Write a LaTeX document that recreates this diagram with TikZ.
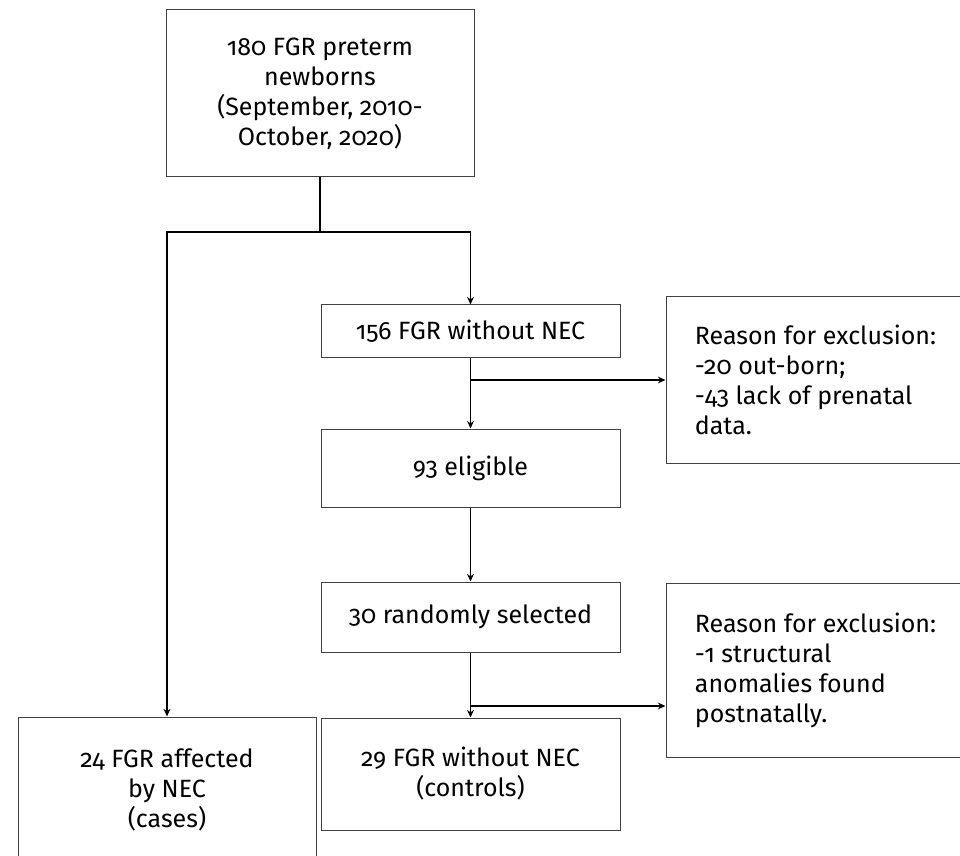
\documentclass[tikz,border=0pt]{standalone}
\usepackage{fontspec}
\setmainfont{Fira Sans}[Numbers=OldStyle]
\usetikzlibrary{arrows.meta}
\tikzset{
  box/.style={draw=black!75, line width=0.5pt, inner sep=2pt, align=center,
    font=\fontsize{12.5}{15}\selectfont},
  exclbox/.style={box, align=left},
  link/.style={line width=0.8pt},
  arr/.style={link, -{Stealth[length=3.8pt,width=3.4pt]}}
}
\begin{document}
\begin{tikzpicture}[x=0.5pt,y=-0.5pt]
\useasboundingbox (0,0) rectangle (960,856);
\node[box, minimum width=154pt, minimum height=83.5pt] (total) at (320,93.5)
  {180 FGR preterm\\newborns\\(September, 2010-\\October, 2020)};
\node[box, minimum width=149.5pt, minimum height=26pt] (nonec) at (470.5,331) {156 FGR without NEC};
\node[box, minimum width=149.5pt, minimum height=39pt] (eligible) at (470.5,468) {93 eligible};
\node[box, minimum width=149.5pt, minimum height=35pt] (random) at (470.5,617) {30 randomly selected};
\node[box, minimum width=149.5pt, minimum height=56pt] (controls) at (470.5,774) {29 FGR without NEC\\(controls)};
\node[box, minimum width=149pt, minimum height=73pt] (cases) at (167,790) {24 FGR affected\\by NEC\\(cases)};
\node[exclbox, minimum width=149.5pt, minimum height=83pt] (excla) at (815.5,380)
  {Reason for exclusion:\\-20 out-born;\\-43 lack of prenatal\\data.};
\node[exclbox, minimum width=149.5pt, minimum height=87pt] (exclb) at (815.5,670)
  {Reason for exclusion:\\-1 structural\\anomalies found\\postnatally.};

\coordinate (split) at (total.south |- 0,232);
\coordinate (ba) at (nonec.south |- 0,380);
\coordinate (bb) at (random.south |- 0,706);
\draw[link] (total.south) -- (split);
\draw[arr] (split) -| (cases.north);
\draw[arr] (split) -| (nonec.north);
\draw[arr] (nonec) -- (eligible);
\draw[arr] (ba) -- (ba -| excla.west);
\draw[arr] (eligible) -- (random);
\draw[arr] (random) -- (controls);
\draw[arr] (bb) -- (bb -| exclb.west);
\end{tikzpicture}
\end{document}
